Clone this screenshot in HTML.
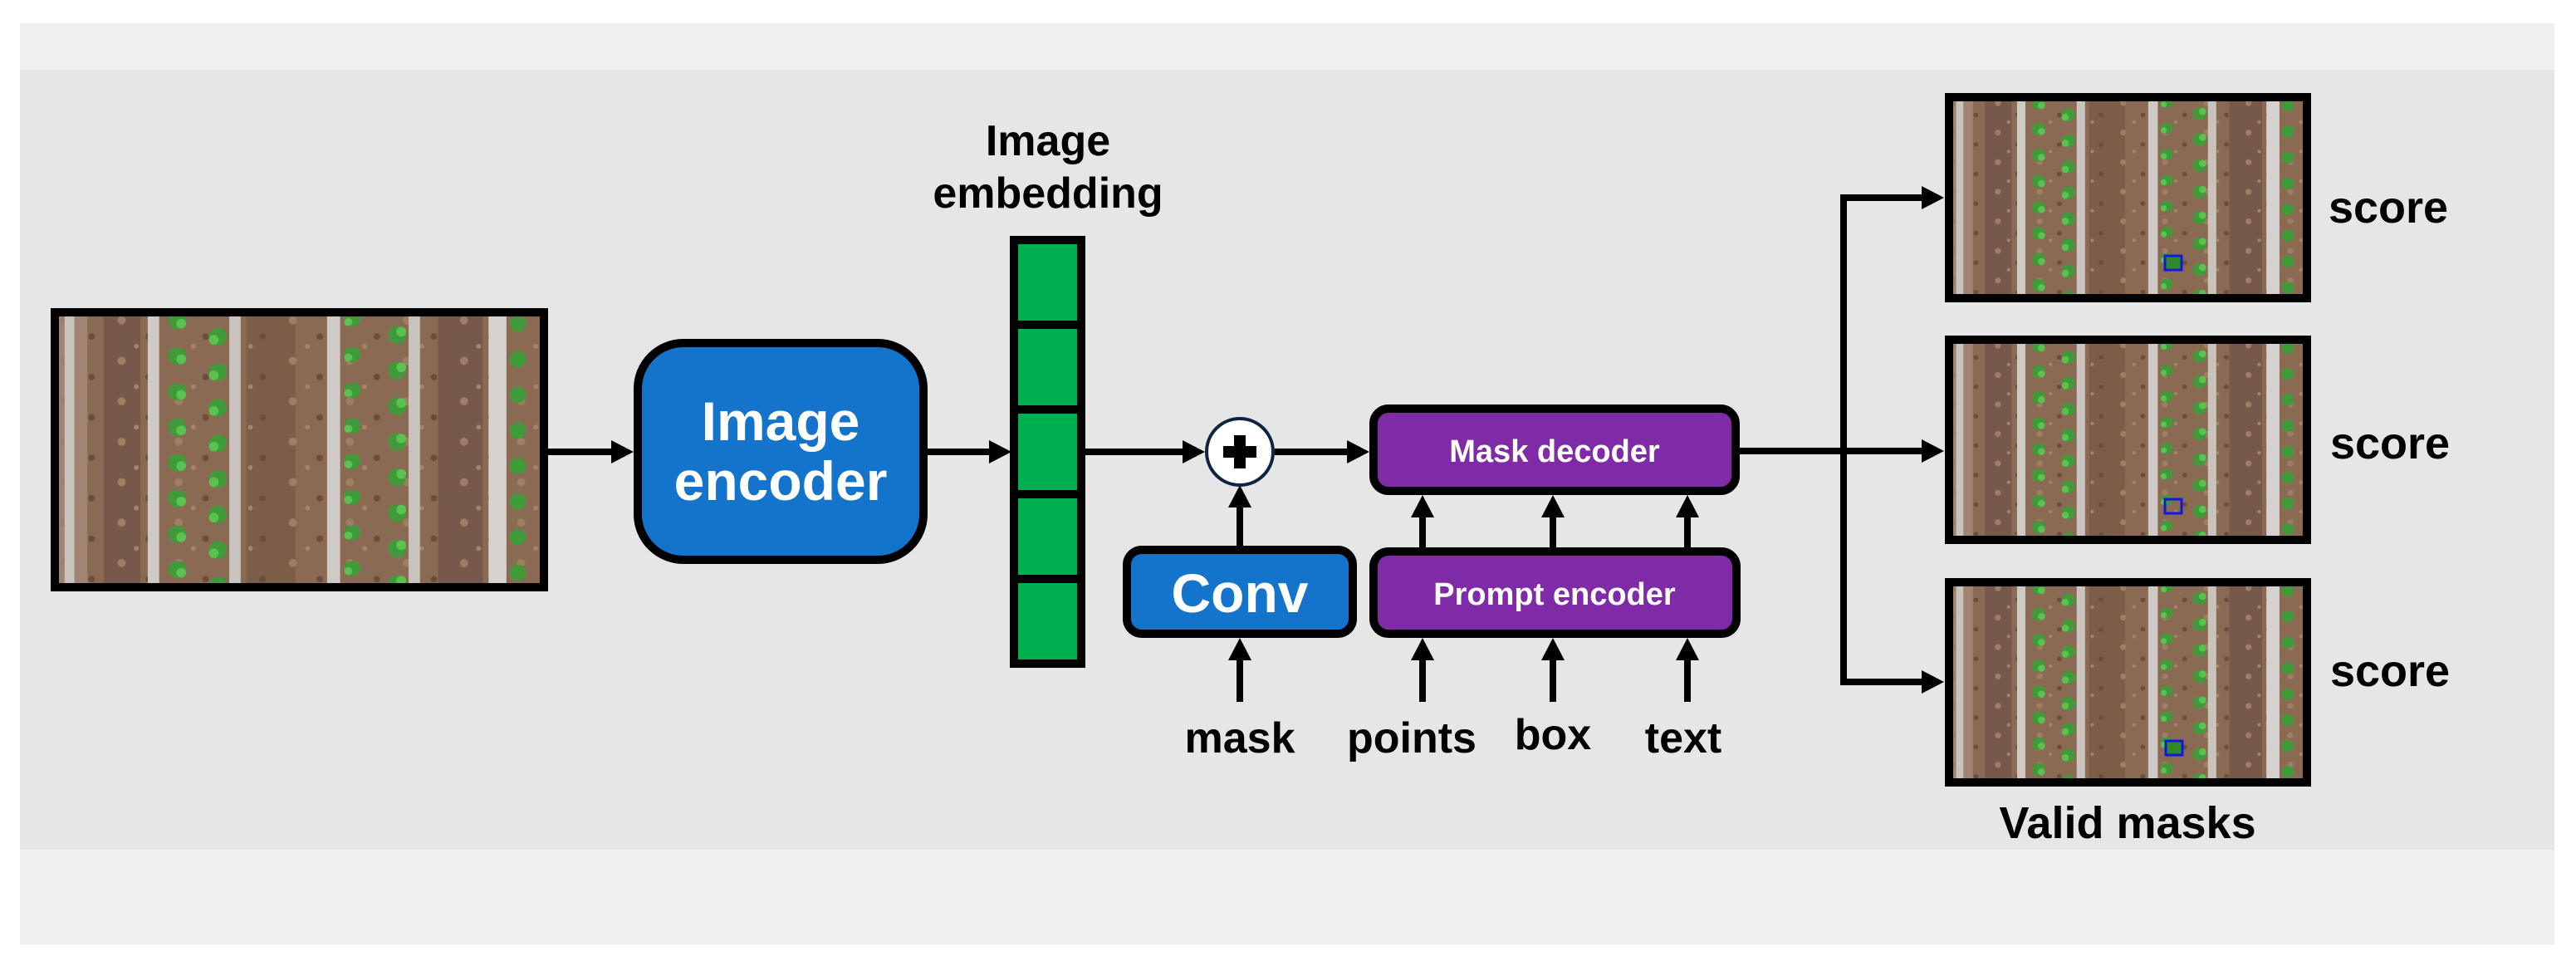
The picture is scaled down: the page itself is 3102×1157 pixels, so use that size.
<!DOCTYPE html>
<html><head><meta charset="utf-8"><style>html,body{margin:0;padding:0;background:#fff}svg{display:block}</style></head>
<body>
<svg width="3102" height="1157" viewBox="0 0 3102 1157" xmlns="http://www.w3.org/2000/svg" font-family="'Liberation Sans', sans-serif" font-weight="bold">
<defs>
<pattern id="plants" patternUnits="userSpaceOnUse" width="600" height="44">
<g fill="#3f9a3a">
<circle cx="150" cy="10" r="11"/><circle cx="200" cy="30" r="11"/><circle cx="365" cy="8" r="10"/><circle cx="420" cy="28" r="11"/><circle cx="568" cy="14" r="10"/>
</g>
<g fill="#5cc24f"><circle cx="155" cy="14" r="6"/><circle cx="195" cy="34" r="6"/><circle cx="425" cy="24" r="6"/><circle cx="360" cy="12" r="5"/></g>
</pattern>
<pattern id="clods" patternUnits="userSpaceOnUse" width="70" height="50">
<circle cx="12" cy="10" r="5" fill="#a07e62"/><circle cx="45" cy="30" r="4" fill="#6a4e3c"/><circle cx="30" cy="42" r="3" fill="#a58468"/>
</pattern>
<symbol id="photo" viewBox="0 0 600 340" preserveAspectRatio="none">
<rect width="600" height="340" fill="#8a6a52"/>
<rect x="0" width="40" height="340" fill="#a08672"/>
<rect x="60" width="45" height="340" fill="#76594a"/>
<rect x="235" width="60" height="340" fill="#7b5d48"/>
<rect x="470" width="55" height="340" fill="#76594a"/>
<rect width="600" height="340" fill="url(#clods)"/>
<rect x="12" width="12" height="340" fill="#c9c3bd"/>
<rect x="114" width="14" height="340" fill="#cfcac5"/>
<rect x="214" width="14" height="340" fill="#c9c4bf"/>
<rect x="334" width="16" height="340" fill="#cfcac5"/>
<rect x="434" width="14" height="340" fill="#c9c3bd"/>
<rect x="532" width="22" height="340" fill="#d4d1ce"/>
<rect width="600" height="340" fill="url(#plants)"/>
</symbol>
</defs>
<rect x="24" y="28" width="3052" height="1109" fill="#efefef"/>
<rect x="24" y="84" width="3052" height="939" fill="#e6e6e6"/>

<use href="#photo" x="66" y="376" width="589" height="331"/>
<rect x="66" y="376" width="589" height="331" fill="none" stroke="#000" stroke-width="10"/>

<rect x="768" y="413" width="344" height="261" rx="55" fill="#1473cb" stroke="#000" stroke-width="10"/>
<text x="940" y="530" font-size="66" fill="#fff" text-anchor="middle">Image</text>
<text x="940" y="602" font-size="66" fill="#fff" text-anchor="middle">encoder</text>

<text x="1262" y="187" font-size="52" text-anchor="middle">Image</text>
<text x="1262" y="250" font-size="52" text-anchor="middle">embedding</text>
<g fill="#00b050" stroke="#000" stroke-width="10">
<rect x="1221" y="289" width="81" height="102"/>
<rect x="1221" y="391" width="81" height="102"/>
<rect x="1221" y="493" width="81" height="102"/>
<rect x="1221" y="595" width="81" height="102"/>
<rect x="1221" y="697" width="81" height="102"/>
</g>

<g stroke="#000" stroke-width="8" fill="none">
<line x1="660" y1="544" x2="740" y2="544"/>
<line x1="1117" y1="544" x2="1195" y2="544"/>
<line x1="1307" y1="544" x2="1428" y2="544"/>
<line x1="1535" y1="544" x2="1626" y2="544"/>
<line x1="1493" y1="657" x2="1493" y2="607"/>
<line x1="1493" y1="845" x2="1493" y2="790"/>
<line x1="1713" y1="659" x2="1713" y2="618"/>
<line x1="1870" y1="659" x2="1870" y2="618"/>
<line x1="2032" y1="659" x2="2032" y2="618"/>
<line x1="1713" y1="845" x2="1713" y2="790"/>
<line x1="1870" y1="845" x2="1870" y2="790"/>
<line x1="2032" y1="845" x2="2032" y2="790"/>
<line x1="2095" y1="543" x2="2318" y2="543"/>
<polyline points="2318,238 2220,238 2220,821 2318,821"/>
</g>
<g fill="#000">
<polygon points="736,530 763,544 736,558"/>
<polygon points="1191,530 1218,544 1191,558"/>
<polygon points="1424,530 1451,544 1424,558"/>
<polygon points="1622,530 1649,544 1622,558"/>
<polygon points="1479,611 1493,584 1507,611"/>
<polygon points="1479,795 1493,768 1507,795"/>
<polygon points="1699,623 1713,596 1727,623"/>
<polygon points="1856,623 1870,596 1884,623"/>
<polygon points="2018,623 2032,596 2046,623"/>
<polygon points="1699,795 1713,768 1727,795"/>
<polygon points="1856,795 1870,768 1884,795"/>
<polygon points="2018,795 2032,768 2046,795"/>
<polygon points="2314,224 2341,238 2314,252"/>
<polygon points="2314,529 2341,543 2314,557"/>
<polygon points="2314,807 2341,821 2314,835"/>
</g>

<circle cx="1493" cy="544" r="40" fill="#fff" stroke="#0d2440" stroke-width="4"/>
<path d="M1486 524h14v13h13v14h-13v13h-14v-13h-13v-14h13z" fill="#000"/>

<rect x="1357" y="662" width="272" height="101" rx="18" fill="#1473cb" stroke="#000" stroke-width="10"/>
<text x="1493" y="737" font-size="66" fill="#fff" text-anchor="middle">Conv</text>

<rect x="1654" y="492" width="436" height="99" rx="18" fill="#7f2aa6" stroke="#000" stroke-width="10"/>
<text x="1872" y="556" font-size="38" fill="#fff" text-anchor="middle">Mask decoder</text>
<rect x="1654" y="664" width="437" height="99" rx="18" fill="#7f2aa6" stroke="#000" stroke-width="10"/>
<text x="1872" y="728" font-size="38" fill="#fff" text-anchor="middle">Prompt encoder</text>

<g font-size="52" text-anchor="middle">
<text x="1493" y="906">mask</text>
<text x="1700" y="906">points</text>
<text x="1870" y="902">box</text>
<text x="2027" y="906">text</text>
</g>

<g>
<use href="#photo" x="2347" y="117" width="431" height="242"/>
<rect x="2347" y="117" width="431" height="242" fill="none" stroke="#000" stroke-width="10"/>
<rect x="2607" y="308" width="20" height="17" fill="#2f8a2a" stroke="#1018e0" stroke-width="3"/>
<use href="#photo" x="2347" y="409" width="431" height="241"/>
<rect x="2347" y="409" width="431" height="241" fill="none" stroke="#000" stroke-width="10"/>
<rect x="2607" y="601" width="20" height="17" fill="none" stroke="#1018e0" stroke-width="3"/>
<use href="#photo" x="2347" y="701" width="431" height="241"/>
<rect x="2347" y="701" width="431" height="241" fill="none" stroke="#000" stroke-width="10"/>
<rect x="2608" y="892" width="20" height="17" fill="#2f8a2a" stroke="#1018e0" stroke-width="3"/>
</g>
<g font-size="54" text-anchor="middle">
<text x="2876" y="268">score</text>
<text x="2878" y="552">score</text>
<text x="2878" y="826">score</text>
<text x="2562" y="1009">Valid masks</text>
</g>
</svg>
</body></html>
